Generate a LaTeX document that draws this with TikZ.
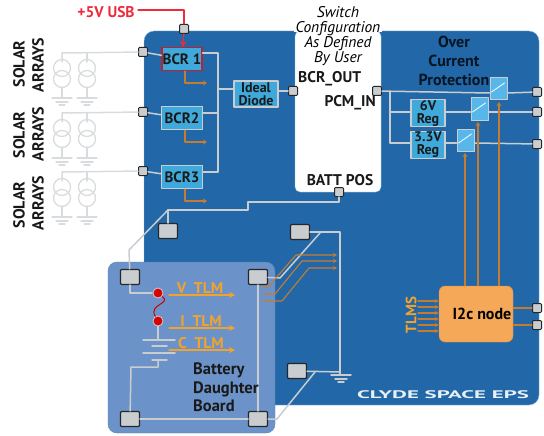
\documentclass[tikz,border=0pt]{standalone}
\usepackage{fontspec}
\usepackage{graphicx}
\setmainfont{PT Sans}
\usetikzlibrary{arrows.meta}
\definecolor{boardblue}{HTML}{2268A8}
\definecolor{boardedge}{HTML}{8FB4D6}
\definecolor{dtrblue}{HTML}{6C93C9}
\definecolor{regblue}{HTML}{3FA9DC}
\definecolor{swblue}{HTML}{58B7EA}
\definecolor{wiregray}{HTML}{C9CDD0}
\definecolor{tlmorange}{HTML}{F2A32C}
\definecolor{ctlorange}{HTML}{C67C30}
\definecolor{nodeorange}{HTML}{F5A857}
\definecolor{usbred}{HTML}{EE2B3B}
\tikzset{
  term/.style={draw=black!85, fill=wiregray, line width=1pt, rounded corners=1pt, minimum width=9pt, minimum height=9pt, inner sep=0pt},
  bigterm/.style={term, line width=1.1pt, minimum width=19pt, minimum height=15pt},
  wire/.style={draw=wiregray, line width=1.5pt},
  ctl/.style={draw=ctlorange, line width=1.1pt},
  tlm/.style={draw=tlmorange, line width=1.1pt, -{Stealth[length=6pt,width=6pt]}},
  regbox/.style={draw=wiregray, fill=regblue, line width=1.3pt, inner sep=0pt, align=center, font=\fontsize{14}{13}\selectfont\bfseries, text=black!90},
  swbox/.style={draw=wiregray, fill=swblue, line width=1pt, minimum width=17pt, minimum height=22pt, inner sep=0pt},
  lbl/.style={inner sep=0pt, font=\fontsize{15.5}{16}\selectfont\bfseries, text=black!90},
  sun/.style={draw=wiregray!70, line width=1.3pt},
  dot/.style={circle, draw=wiregray, fill=red!85!black, line width=0.8pt, minimum size=10pt, inner sep=0pt}
}
\begin{document}
\begin{tikzpicture}[x=1pt, y=-1pt, line cap=round, line join=round]
    \useasboundingbox (0,0) rectangle (544,436);
    \fill[boardblue, draw=boardedge, rounded corners=10pt] (144,31) rectangle (539,405);
    \fill[white, draw=boardedge, rounded corners=5pt] (295,31) rectangle (381,192);
    \fill[white] (294,25) rectangle (382,32);
    \fill[dtrblue, draw=dtrblue!85!black, rounded corners=9pt] (108,262) rectangle (275,433);

    \node[term] (usb) at (184,29) {};
    \foreach \n/\y in {1/52,2/112,3/171} \node[term] (sol\n) at (143,\y) {};
    \node[term] (diodeout) at (293,91) {};
    \node[term] (pcm) at (377,91) {};
    \node[term] (battpos) at (339,192) {};
    \node[term] (out1) at (537,92) {};
    \node[term] (out2) at (537,112) {};
    \node[term] (out3) at (537,144) {};
    \node[term] (sda) at (537,308) {};
    \node[term] (scl) at (537,325) {};
    \node[bigterm] (ta) at (168,231) {};
    \node[bigterm] (tb) at (300,232) {};
    \node[bigterm] (tc) at (297,371) {};
    \node[bigterm] (da) at (130,277) {};
    \node[bigterm] (db) at (258,277) {};
    \node[bigterm] (dc) at (130,419) {};
    \node[bigterm] (dd) at (258,419) {};

    \node[regbox, minimum width=40pt, minimum height=23pt, draw=usbred!80!black, font=\fontsize{15}{13}\selectfont\bfseries] (bcra) at (182,59) {BCR 1};
    \node[regbox, minimum width=41pt, minimum height=23pt, font=\fontsize{15}{13}\selectfont\bfseries] (bcrb) at (182,118) {BCR2};
    \node[regbox, minimum width=41pt, minimum height=23pt, font=\fontsize{15}{13}\selectfont\bfseries] (bcrc) at (182,177) {BCR3};
    \node[regbox, minimum width=44pt, minimum height=26pt] (diode) at (256,94) {Ideal\\Diode};
    \node[regbox, minimum width=34pt, minimum height=27pt] (regsix) at (428,113) {6V\\Reg};
    \node[regbox, minimum width=34pt, minimum height=27pt] (regthree) at (428,145) {3.3V\\Reg};
    \node[swbox] (swa) at (498.5,89) {};
    \node[swbox] (swb) at (479.5,109) {};
    \node[swbox] (swc) at (465.5,140) {};
    \foreach \s in {swa,swb,swc} \draw[white, line width=0.8pt] (\s.west) ++(2,3) -- ++(13,-9);

    \foreach \n/\y in {1/53,2/113,3/172} {
      \draw[wire, draw=wiregray!70] (sol\n) -- (62,\y) -- (62,\y+9);
      \draw[wire, draw=wiregray!70] (87,\y) -- (87,\y+9);
      \foreach \x in {62,87} {
        \draw[sun] (\x,\y+15) circle (8.5);
        \draw[sun] (\x,\y+26) circle (8.5);
        \draw[sun] (\x,\y+34) -- (\x,\y+45);
        \draw[sun] (\x-10,\y+45) -- (\x+10,\y+45);
        \draw[sun] (\x-6,\y+49) -- (\x+6,\y+49);
        \draw[sun] (\x-3,\y+52) -- (\x+3,\y+52);
      }
    }
    \draw[wire] (sol1) -- (bcra);
    \draw[wire] (sol2) -- (bcrb);
    \draw[wire] (sol3) -- (bcrc);
    \draw[wire] (bcra.east |- 0,53) -- (218,53) -- (218,172) -- (bcrc.east |- 0,172);
    \draw[wire] (bcrb.east |- 0,113) -- (218,113);
    \draw[wire] (218,89) -- (diode.west |- 0,89);
    \draw[wire] (diode.east |- 0,91) -- (diodeout);

    \draw[usbred, line width=1.1pt] (138,10) -- (184,10) -- (usb);
    \draw[usbred, line width=1.1pt, -{Stealth[length=6pt,width=7pt]}] (usb) -- (bcra);

    \foreach \b/\y in {bcra/83,bcrb/142,bcrc/201}
      \draw[ctl, -{Stealth[length=4pt,width=5pt]}] (\b.south -| 185,0) -- (185,\y) -- (207,\y);

    \draw[wire] (pcm) -- (swa.west |- 0,93);
    \draw[wire] (swa.east |- 0,93) -- (out1);
    \draw[wire] (390,92) -- (390,143) -- (regthree.west |- 0,143);
    \draw[wire] (390,112) -- (regsix.west |- 0,112);
    \draw[wire] (regsix.east |- 0,112) -- (swb.west |- 0,112);
    \draw[wire] (swb.east |- 0,112) -- (out2);
    \draw[wire] (regthree.east |- 0,143) -- (swc.west |- 0,143);
    \draw[wire] (swc.east |- 0,143) -- (out3);

    \draw[wire] (battpos) -- (339,202) -- (248,202) -- (248,210) -- (168,210) -- (ta);
    \draw[wire] (168,210) -- (129,250) -- (da);
    \draw[wire] (da) -- (130,293) -- (152,293);
    \draw[wire] (tb) -- (340,232) -- (340,375);
    \draw[wire] (320,233) -- (280,278) -- (db);
    \draw[wire] (tc) -- (340,372);
    \draw[wire] (315,372) -- (277,419) -- (dd);
    \draw[wire] (db) -- (dd);
    \draw[wire, line width=1.9pt] (dc) -- (dd);
    \draw[wire] (331,375) -- (351,375);
    \draw[wire] (335,379) -- (347,379);
    \draw[wire] (338,382) -- (344,382);

    \node[dot] (fusea) at (158,293) {};
    \node[dot] (fuseb) at (158,321) {};
    \draw[red!80!black, line width=1pt] (fusea) .. controls (172,304) and (148,304) .. (fuseb);
    \draw[wire] (fuseb) -- (158,340);
    \draw[wire] (143,340) -- (175,340);
    \draw[wire] (152,346) -- (167,346);
    \draw[wire] (143,353) -- (175,353);
    \draw[wire] (152,360) -- (167,360);
    \draw[wire] (158,360) -- (158,367) -- (131,367) -- (dc);

    \foreach \y/\t in {295/V,328/I,350/C} \node[coordinate] (tlm\t) at (169,\y) {};
    \foreach \t in {V,I,C} \draw[tlm] (tlm\t) -- ++(66,0);
    \node[lbl, text=tlmorange] (vtlm) at (200,288) {V\ \ TLM};
    \node[lbl, text=tlmorange] (itlm) at (201,321) {I\ \ TLM};
    \node[lbl, text=tlmorange] (ctlm) at (201,343) {C\ \ TLM};

    \foreach \a/\b in {287/255,294/261,301/268} {
      \draw[ctl, -{Stealth[length=4pt,width=4pt]}] (263,\a) -- (\a-19,\a) -- (\b+41,\b) -- (337,\b);
    }

    \node[draw=ctlorange!60!nodeorange, fill=nodeorange, rounded corners=6pt, minimum width=74pt, minimum height=56pt, inner sep=0pt, font=\fontsize{16}{16}\selectfont\bfseries] (itwoc) at (476,314) {\hspace{12pt}I2c node};
    \foreach \x/\s/\y in {465/swc/153,478/swb/122,499/swa/102}
      \draw[ctl, -{Stealth[length=4pt,width=5pt]}] (itwoc.north -| \x,0) -- (\x,\y);
    \foreach \y in {301,307,313,319,325,331}
      \draw[ctl, -{Stealth[length=4pt,width=4pt]}] (418,\y) -- (itwoc.west |- 0,\y);
    \draw[ctl] (itwoc.east |- sda) -- (sda);
    \draw[ctl] (itwoc.east |- scl) -- (scl);

    \node[lbl, text=tlmorange, rotate=90, font=\fontsize{15}{15}\selectfont\bfseries] (tlms) at (411,315) {TLMS};
    \node[lbl, anchor=south] (usblbl) at (106,18) {\textcolor{usbred}{+5V USB}};
    \node[inner sep=0pt, align=center, font=\fontsize{15.5}{15}\selectfont\itshape] (cfg) at (338,36.5) {Switch\\Configuration\\As Defined\\By User};
    \node[lbl, anchor=west] (bcrout) at (298,79) {BCR\_OUT};
    \node[lbl, anchor=east] (pcmin) at (376,103) {PCM\_IN};
    \node[lbl] (batt) at (340,180) {BATT POS};
    \node[lbl, align=center, font=\fontsize{16}{19}\selectfont\bfseries, text=black!80!boardblue] (ocp) at (454,61) {Over\\Current\\Protection};
    \node[lbl, align=left, anchor=north west, font=\fontsize{16.5}{18.5}\selectfont\bfseries] (dtr) at (193,363) {Battery\\Daughter\\Board};
    \node[lbl, text=white!90!boardblue, font=\fontsize{11}{11}\selectfont\bfseries] (clyde) at (443,395) {\scalebox{2.08}[1]{CLYDE SPACE EPS}};
    \foreach \y/\u/\v in {64/65/1,135/134/2,205/203/3} {
      \node[lbl, rotate=90, font=\fontsize{16}{16}\selectfont\bfseries] (solar\v) at (19,\y) {SOLAR};
      \node[lbl, rotate=90, font=\fontsize{16}{16}\selectfont\bfseries] (array\v) at (38,\u) {ARRAYS};
    }
  \end{tikzpicture}
\end{document}
